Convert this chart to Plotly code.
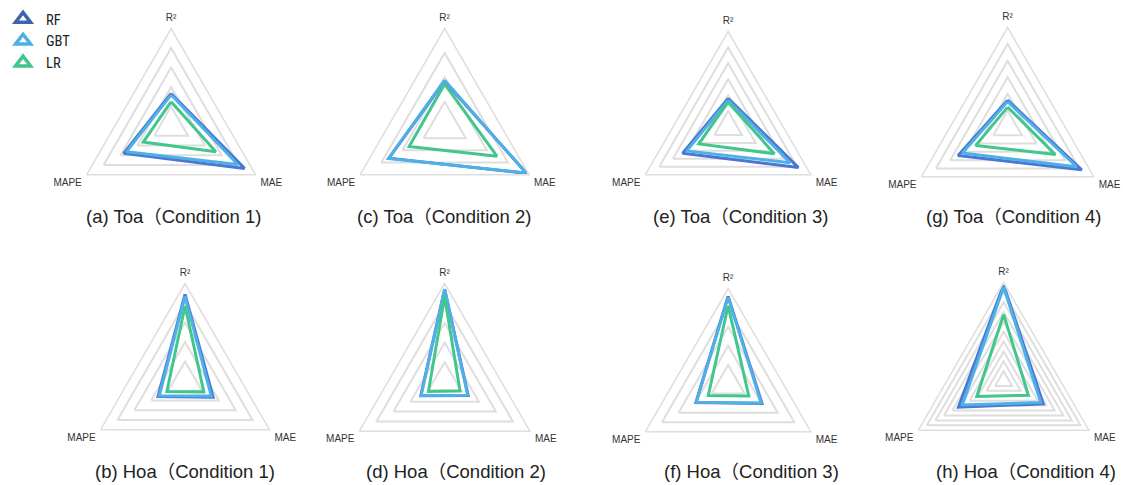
import plotly.graph_objects as go

# ---- data (normalised radar values) ----
metrics = ["R²", "MAE", "MAPE"]
models = ["RF", "GBT", "LR"]
panel_titles = [
    "(a) Toa（Condition 1)", "(c) Toa（Condition 2)", "(e) Toa（Condition 3)", "(g) Toa（Condition 4)",
    "(b) Hoa（Condition 1)", "(d) Hoa（Condition 2)", "(f) Hoa（Condition 3)", "(h) Hoa（Condition 4)",
]
# one value per panel (order a, c, e, g, b, d, f, h)
rf_r2 = [0.334, 0.46, 0.30, 0.27, 0.89, 0.94, 0.92, 0.976]
rf_mae = [0.87, 0.97, 0.85, 0.86, 0.333, 0.276, 0.41, 0.465]
rf_mape = [0.56, 0.66, 0.55, 0.575, 0.32, 0.28, 0.39, 0.53]
gbt_r2 = [0.32, 0.47, 0.28, 0.255, 0.87, 0.945, 0.91, 0.955]
gbt_mae = [0.79, 0.965, 0.75, 0.80, 0.31, 0.27, 0.40, 0.435]
gbt_mape = [0.53, 0.665, 0.50, 0.525, 0.305, 0.275, 0.385, 0.485]
lr_r2 = [0.25, 0.43, 0.26, 0.20, 0.77, 0.865, 0.82, 0.676]
lr_mae = [0.53, 0.62, 0.56, 0.555, 0.223, 0.18, 0.25, 0.29]
lr_mape = [0.33, 0.42, 0.355, 0.37, 0.215, 0.19, 0.24, 0.315]
ring_counts = [5, 4, 6, 6, 5, 5, 5, 10]

series = {
    "RF": (rf_r2, rf_mae, rf_mape),
    "GBT": (gbt_r2, gbt_mae, gbt_mape),
    "LR": (lr_r2, lr_mae, lr_mape),
}

# ---- styling / layout ----
W, H = 1123, 485
colors = {"RF": "#4a76d4", "GBT": "#4eb0e6", "LR": "#43c58e"}
legend_colors = {"RF": "#3f63ad", "GBT": "#4eb0e6", "LR": "#43c58e"}
# centre x, centre y, radius (window pixels)
geom = [
    (166, 126, 98), (441, 126, 98), (726, 127, 96), (1007, 127, 100),
    (180, 381, 98), (441, 382, 99), (726, 384, 96), (1003, 381, 99),
]
title_pos = [
    (169, 217), (440, 217), (739, 217), (1013, 217),
    (180, 471), (452, 471), (750, 471), (1025, 471),
]
grid_col = "#dedede"

fig = go.Figure()
layout_polars = {}
for i in range(8):
    name = "polar" if i == 0 else f"polar{i+1}"
    for m in models:
        r2, mae, mape = series[m]
        rr = [r2[i], mae[i], mape[i], r2[i]]
        fig.add_trace(go.Scatterpolar(
            r=rr, theta=metrics + [metrics[0]], mode="lines",
            line=dict(color=colors[m], width=3),
            subplot=name, showlegend=False, hoverinfo="skip",
        ))
    cx, cy, R = geom[i]
    n = ring_counts[i]
    layout_polars[name] = dict(
        domain=dict(x=[(cx - R) / W, (cx + R) / W], y=[(H - cy - R) / H, (H - cy + R) / H]),
        gridshape="linear",
        bgcolor="rgba(0,0,0,0)",
        radialaxis=dict(range=[0, 1], tickvals=[k / n for k in range(1, n + 1)],
                        showticklabels=False, ticks="", showline=False,
                        gridcolor=grid_col, gridwidth=1.5),
        angularaxis=dict(rotation=90, direction="clockwise", showgrid=False,
                         showline=True, linecolor=grid_col, linewidth=1.5,
                         ticks="outside", ticklen=3, tickcolor="rgba(0,0,0,0)",
                         tickfont=dict(size=10, color="#333", family="Liberation Sans, Arial")),
    )

# legend entries
for m in models:
    fig.add_trace(go.Scatterpolar(
        r=[None], theta=[None], mode="markers", name=m,
        marker=dict(symbol="triangle-up-open", size=13, color=legend_colors[m],
                    line=dict(width=3.5, color=legend_colors[m])),
        subplot="polar", showlegend=True,
    ))

annotations = []
for t, (x, y) in zip(panel_titles, title_pos):
    annotations.append(dict(
        text=t, x=x / W, y=(H - y) / H, xref="paper", yref="paper",
        showarrow=False, xanchor="center", yanchor="middle",
        font=dict(size=18.5, color="#222", family="Liberation Sans, Noto Sans CJK SC, Arial"),
    ))

fig.update_layout(
    width=W, height=H,
    margin=dict(l=0, r=0, t=0, b=0),
    paper_bgcolor="white", plot_bgcolor="white",
    showlegend=True,
    legend=dict(x=-6 / W, y=1.0 - 3 / H, xanchor="left", yanchor="top",
                itemwidth=36,
                bgcolor="rgba(0,0,0,0)", borderwidth=0,
                font=dict(size=14.5, color="#222", family="Roboto Condensed, Roboto, DejaVu Sans Condensed")),
    annotations=annotations,
    **layout_polars,
)

fig.write_html(
    "out.html",
    config={"displayModeBar": False},
    post_script="document.body.style.margin='0';document.documentElement.style.overflow='hidden';",
)
